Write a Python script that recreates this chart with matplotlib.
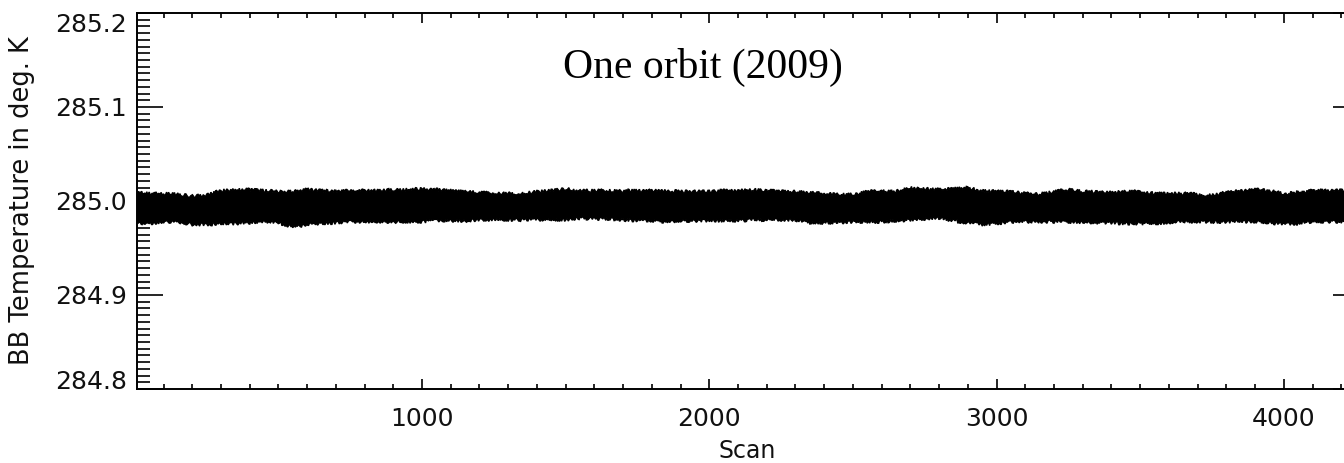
import matplotlib
matplotlib.use("Agg")
import matplotlib.pyplot as plt
from matplotlib.ticker import MultipleLocator, FixedLocator
import numpy as np

# Blackbody temperature over one orbit: upper / lower edge of the noisy trace
scan = np.arange(0, 4251, 50)
bb_upper = [
    285.009, 285.008, 285.008, 285.007, 285.005, 285.006, 285.011, 285.012, 285.012, 285.011,
    285.010, 285.010, 285.012, 285.011, 285.010, 285.011, 285.011, 285.011, 285.012, 285.012,
    285.013, 285.012, 285.011, 285.010, 285.009, 285.008, 285.008, 285.008, 285.010, 285.011,
    285.013, 285.011, 285.011, 285.011, 285.011, 285.011, 285.011, 285.011, 285.010, 285.010,
    285.010, 285.011, 285.011, 285.012, 285.011, 285.010, 285.010, 285.009, 285.008, 285.007,
    285.007, 285.010, 285.011, 285.010, 285.014, 285.013, 285.012, 285.013, 285.014, 285.011,
    285.010, 285.010, 285.008, 285.007, 285.010, 285.012, 285.010, 285.010, 285.009, 285.010,
    285.010, 285.008, 285.008, 285.008, 285.007, 285.006, 285.009, 285.011, 285.012, 285.011,
    285.008, 285.009, 285.011, 285.011, 285.011, 285.011,
]
bb_lower = [
    284.977, 284.976, 284.978, 284.978, 284.975, 284.975, 284.976, 284.976, 284.977, 284.978,
    284.977, 284.972, 284.975, 284.976, 284.977, 284.978, 284.978, 284.978, 284.978, 284.978,
    284.978, 284.979, 284.979, 284.979, 284.980, 284.980, 284.980, 284.980, 284.980, 284.980,
    284.980, 284.982, 284.981, 284.981, 284.980, 284.979, 284.979, 284.978, 284.979, 284.979,
    284.979, 284.979, 284.979, 284.980, 284.980, 284.980, 284.980, 284.977, 284.977, 284.977,
    284.978, 284.978, 284.978, 284.979, 284.980, 284.981, 284.982, 284.979, 284.977, 284.975,
    284.976, 284.978, 284.978, 284.978, 284.978, 284.978, 284.977, 284.977, 284.977, 284.976,
    284.976, 284.976, 284.977, 284.978, 284.978, 284.978, 284.978, 284.978, 284.978, 284.977,
    284.975, 284.976, 284.978, 284.978, 284.978, 284.978,
]

x_ticks = [1000, 2000, 3000, 4000]
y_ticks = [284.8, 284.9, 285.0, 285.1, 285.2]
y_tick_labels = ["284.8", "284.9", "285.0", "285.1", "285.2"]

W, H = 1344, 463
fig = plt.figure(figsize=(W / 100, H / 100), dpi=100)
# plot box (right edge runs past the canvas)
left_px, right_px, top_px, bot_px = 136.5, 1358.5, 13, 389
ax = fig.add_axes([left_px / W, 1 - bot_px / H,
                   (right_px - left_px) / W, (bot_px - top_px) / H])

# closed outline: along the upper edge, then back along the lower edge
band_x = np.concatenate([scan, scan[::-1]])
band_y = np.concatenate([bb_upper, bb_lower[::-1]])
band, = ax.fill(band_x, band_y, facecolor="black", edgecolor="black", lw=1.0)
# ragged, noisy-looking outline
band.set_sketch_params(scale=1.6, length=2.0, randomness=4)

ax.set_xlim(6, 4260)
ax.set_ylim(284.8, 285.2)

ax.xaxis.set_major_locator(FixedLocator(x_ticks))
ax.xaxis.set_minor_locator(MultipleLocator(100))
ax.yaxis.set_major_locator(FixedLocator(y_ticks))
ax.set_yticklabels(y_tick_labels)
ax.yaxis.set_minor_locator(MultipleLocator(0.1 / 14))

TXT = "#111111"
for lab in ax.get_xticklabels() + ax.get_yticklabels():
    lab.set_fontfamily("DejaVu Sans")
    lab.set_fontsize(18)
    lab.set_color(TXT)

ax.tick_params(axis="x", which="major", direction="in", length=7, width=1.2,
               top=True, bottom=True, pad=13)
ax.tick_params(axis="x", which="minor", direction="in", length=3.5, width=1.2,
               top=True, bottom=True)
ax.tick_params(axis="y", which="major", direction="in", length=18.5, width=1.2,
               left=True, right=True, pad=7)
ax.tick_params(axis="y", which="minor", direction="in", length=9.5, width=1.2,
               left=True, right=True)
for sp in ax.spines.values():
    sp.set_linewidth(1.4)

# end labels sit inside the axis span
ylabs = ax.get_yticklabels()
ylabs[-1].set_va("top")
ylabs[0].set_va("baseline")

ax.set_xlabel("Scan", family="DejaVu Sans", fontsize=17, color=TXT, labelpad=6)
ax.set_ylabel("BB Temperature in deg. K", family="DejaVu Sans", fontsize=18.5,
              color=TXT, labelpad=14)

ax.text(0.4635, 0.8285, "One orbit (2009)", transform=ax.transAxes,
        ha="center", va="baseline", family="Liberation Serif", fontsize=30)

fig.savefig("out.png", dpi=100)
